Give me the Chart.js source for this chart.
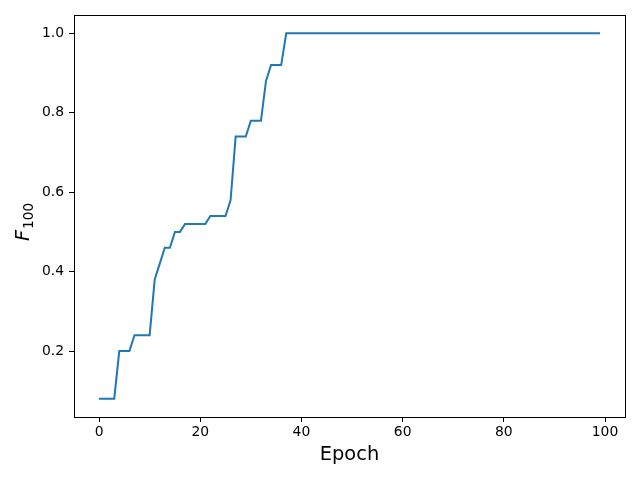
<!DOCTYPE html>
<html>
<head>
<meta charset="utf-8">
<script src="https://cdn.jsdelivr.net/npm/chart.js@4.4.0/dist/chart.umd.min.js"></script>
<style>
  html, body { margin: 0; padding: 0; background: #fff; }
  canvas { display: block; }
</style>
</head>
<body>
<canvas id="c" width="640" height="480"></canvas>
<script>
// ---- Data ----
const epochs = Array.from({length: 100}, (_, i) => i);
const f100 = [
  0.08, 0.08, 0.08, 0.08, 0.20, 0.20, 0.20, 0.24, 0.24, 0.24,
  0.24, 0.38, 0.42, 0.46, 0.46, 0.50, 0.50, 0.52, 0.52, 0.52,
  0.52, 0.52, 0.54, 0.54, 0.54, 0.54, 0.58, 0.74, 0.74, 0.74,
  0.78, 0.78, 0.78, 0.88, 0.92, 0.92, 0.92, 1.00, 1.00, 1.00,
  1.00, 1.00, 1.00, 1.00, 1.00, 1.00, 1.00, 1.00, 1.00, 1.00,
  1.00, 1.00, 1.00, 1.00, 1.00, 1.00, 1.00, 1.00, 1.00, 1.00,
  1.00, 1.00, 1.00, 1.00, 1.00, 1.00, 1.00, 1.00, 1.00, 1.00,
  1.00, 1.00, 1.00, 1.00, 1.00, 1.00, 1.00, 1.00, 1.00, 1.00,
  1.00, 1.00, 1.00, 1.00, 1.00, 1.00, 1.00, 1.00, 1.00, 1.00,
  1.00, 1.00, 1.00, 1.00, 1.00, 1.00, 1.00, 1.00, 1.00, 1.00
];
const xTicks = [0, 20, 40, 60, 80, 100];
const yTicks = [0.2, 0.4, 0.6, 0.8, 1.0];
const xLabel = 'Epoch';
const yLabelMain = 'F';
const yLabelSub = '100';

const points = epochs.map((e, i) => ({x: e, y: f100[i]}));
const FONT = "'DejaVu Sans', sans-serif";

const frame = {
  id: 'frame',
  afterDraw(chart) {
    const {ctx, chartArea: a} = chart;
    ctx.save();
    ctx.strokeStyle = '#000';
    ctx.lineWidth = 1;
    ctx.strokeRect(Math.round(a.left) + 0.5, Math.round(a.top) + 0.5,
                   Math.round(a.right - a.left), Math.round(a.bottom - a.top));
    // y label F_100 (rotated)
    ctx.translate(22, 222);
    ctx.rotate(-Math.PI / 2);
    ctx.fillStyle = '#000';
    ctx.textBaseline = 'alphabetic';
    ctx.textAlign = 'left';
    const mainFont = "italic 19.4px " + FONT;
    const subFont = "13.6px " + FONT;
    ctx.font = mainFont;
    const wF = ctx.measureText(yLabelMain).width;
    ctx.font = subFont;
    const wS = ctx.measureText(yLabelSub).width;
    const total = wF + wS + 1;
    const base = 7;
    ctx.font = mainFont;
    ctx.fillText(yLabelMain, -total / 2, base);
    ctx.font = subFont;
    ctx.fillText(yLabelSub, -total / 2 + wF + 1, base + 4);
    ctx.restore();
  }
};

new Chart(document.getElementById('c'), {
  type: 'line',
  data: {
    datasets: [{
      data: points,
      borderColor: '#1f77b4',
      borderWidth: 2,
      pointRadius: 0,
      tension: 0,
      fill: false
    }]
  },
  options: {
    responsive: false,
    animation: false,
    layout: { padding: { top: 15, right: 15, left: 0, bottom: 0 } },
    plugins: { legend: { display: false }, tooltip: { enabled: false } },
    scales: {
      x: {
        type: 'linear',
        min: -4.95,
        max: 103.95,
        afterFit(s) { s.height = 63; },
        afterBuildTicks(s) { s.ticks = xTicks.map(v => ({value: v})); },
        ticks: {
          color: '#000',
          font: { family: FONT, size: 13.9 },
          padding: 2,
          maxRotation: 0,
          callback: v => String(v)
        },
        grid: { drawOnChartArea: false, drawTicks: true, tickLength: 5, color: '#000', tickWidth: 1 },
        border: { display: true, color: '#000', width: 1 },
        title: {
          display: true,
          text: xLabel,
          color: '#000',
          font: { family: FONT, size: 19.4 },
          padding: { top: 0, bottom: 13 }
        }
      },
      y: {
        type: 'linear',
        min: 0.034,
        max: 1.046,
        afterFit(s) { s.width = 74; },
        afterBuildTicks(s) { s.ticks = yTicks.map(v => ({value: v})); },
        ticks: {
          color: '#000',
          font: { family: FONT, size: 13.9 },
          padding: 5,
          callback: v => Number(v).toFixed(1)
        },
        grid: { drawOnChartArea: false, drawTicks: true, tickLength: 5, color: '#000', tickWidth: 1 },
        border: { display: true, color: '#000', width: 1 }
      }
    }
  },
  plugins: [frame]
});
</script>
</body>
</html>
